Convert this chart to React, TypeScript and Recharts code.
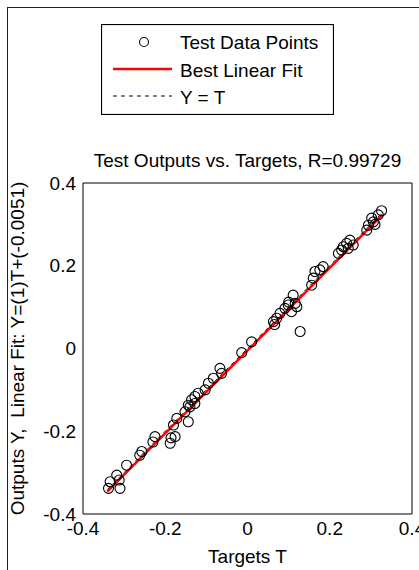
import React from "react";
import { ComposedChart, XAxis, YAxis, Scatter, Line, Legend } from "recharts";

// test set: targets T and network outputs Y
const targets = [
  0.326, 0.318, 0.302, 0.306, 0.294, 0.31, 0.29, 0.257, 0.249, 0.241, 0.233,
  0.229, 0.221, 0.245, 0.184, 0.176, 0.164, 0.16, 0.156, 0.111, 0.116, 0.099,
  0.091, 0.12, 0.107, 0.079, 0.071, 0.063, 0.066, 0.128, 0.01, -0.014, -0.067,
  -0.063, -0.083, -0.095, -0.103, -0.12, -0.128, -0.136, -0.144, -0.128, -0.14,
  -0.152, -0.144, -0.172, -0.18, -0.176, -0.188, -0.225, -0.23, -0.257, -0.262,
  -0.294, -0.318, -0.312, -0.334, -0.338, -0.31, -0.186, 0.1,
];
const outputs = [
  0.333, 0.323, 0.315, 0.306, 0.298, 0.3, 0.286, 0.25, 0.262, 0.254, 0.246,
  0.238, 0.23, 0.242, 0.198, 0.19, 0.186, 0.17, 0.153, 0.129, 0.109, 0.105,
  0.097, 0.101, 0.089, 0.085, 0.073, 0.065, 0.058, 0.041, 0.016, -0.01, -0.048,
  -0.06, -0.072, -0.084, -0.1, -0.108, -0.116, -0.124, -0.137, -0.133, -0.141,
  -0.153, -0.177, -0.169, -0.185, -0.213, -0.229, -0.213, -0.226, -0.249,
  -0.258, -0.282, -0.306, -0.318, -0.322, -0.338, -0.338, -0.216, 0.112,
];

// end points of the two reference lines
const fitT = [-0.341, 0.328];
const fitY = [-0.346, 0.323];
const identT = [-0.341, 0.328];
const identY = [-0.341, 0.328];

const xTicks = [-0.4, -0.2, 0, 0.2, 0.4];
const yTicks = [-0.4, -0.2, 0, 0.2, 0.4];

const title = "Test Outputs vs. Targets, R=0.99729";
const xLabel = "Targets T";
const yLabel = "Outputs Y,\u00a0 Linear Fit: Y=(1)T+(-0.0051)";
const legendNames = ["Test Data Points", "Best Linear Fit", "Y = T"];

const font = "'Liberation Sans', Arial, sans-serif";

const points = targets.map((t, i) => ({ t, y: outputs[i] }));
const fitData = fitT.map((t, i) => ({ t, y: fitY[i] }));
const identData = identT.map((t, i) => ({ t, y: identY[i] }));

const Ring = (props: any) => (
  <circle cx={props.cx} cy={props.cy} r={5} fill="none" stroke="#000" strokeWidth={1.1} />
);

const LegendBox = () => (
  <svg width={233} height={91} style={{ display: "block", fontFamily: font }}>
    <rect x={0.5} y={0.5} width={232} height={90} fill="#fff" stroke="#000" strokeWidth={1.2} />
    <circle cx={43} cy={18} r={4.5} fill="none" stroke="#000" strokeWidth={1.1} />
    <line x1={12} x2={71} y1={45} y2={45} stroke="#f00" strokeWidth={2.5} />
    <line x1={12} x2={71} y1={72} y2={72} stroke="#000" strokeWidth={1} strokeDasharray="4 4" />
    {legendNames.map((name, i) => (
      <text key={name} x={79} y={25 + i * 27.5} fontSize={19} fill="#000">
        {name}
      </text>
    ))}
  </svg>
);

const tickStyle = { fill: "#000", fontSize: 19, fontFamily: font };

export default function App() {
  return (
    <div style={{ position: "absolute", left: 0, top: 0, width: 419, height: 570, background: "#fff", overflow: "hidden" }}>
      <div
        style={{
          position: "absolute",
          left: 7,
          top: 7,
          width: 500,
          height: 700,
          borderLeft: "1.5px solid #222",
          borderTop: "1.5px solid #222",
        }}
      />
      <ComposedChart
        width={419}
        height={570}
        margin={{ top: 183, right: 7, bottom: 0, left: 0 }}
        style={{ fontFamily: font }}
      >
        <XAxis
          xAxisId="b"
          dataKey="t"
          type="number"
          domain={[-0.4, 0.4]}
          ticks={xTicks}
          interval={0}
          height={56}
          axisLine={false}
          tickLine={false}
          tickSize={6}
          tickMargin={2}
          tick={tickStyle}
          label={{ value: xLabel, position: "insideBottom", offset: 7, fill: "#000", fontSize: 19, fontFamily: font }}
        />
        <XAxis
          xAxisId="bm"
          type="number"
          orientation="bottom"
          mirror
          height={1}
          domain={[-0.4, 0.4]}
          ticks={xTicks}
          interval={0}
          tick={false}
          tickSize={4}
          stroke="#000"
        />
        <XAxis
          xAxisId="tm"
          type="number"
          orientation="top"
          mirror
          height={1}
          domain={[-0.4, 0.4]}
          ticks={xTicks}
          interval={0}
          tick={false}
          tickSize={4}
          stroke="#000"
          label={{ value: title, position: "top", offset: 16, fill: "#000", fontSize: 19, fontFamily: font }}
        />
        <YAxis
          yAxisId="l"
          dataKey="y"
          type="number"
          domain={[-0.4, 0.4]}
          ticks={yTicks}
          interval={0}
          width={83}
          axisLine={false}
          tickLine={false}
          tickSize={5}
          tickMargin={2}
          tick={tickStyle}
          label={{
            value: yLabel,
            angle: -90,
            position: "insideLeft",
            offset: 17,
            fill: "#000",
            fontSize: 19,
            fontFamily: font,
            style: { textAnchor: "middle" },
          }}
        />
        <YAxis
          yAxisId="lm"
          type="number"
          orientation="left"
          mirror
          width={1}
          domain={[-0.4, 0.4]}
          ticks={yTicks}
          interval={0}
          tick={false}
          tickSize={4}
          stroke="#000"
        />
        <YAxis
          yAxisId="rm"
          type="number"
          orientation="right"
          mirror
          width={1}
          domain={[-0.4, 0.4]}
          ticks={yTicks}
          interval={0}
          tick={false}
          tickSize={4}
          stroke="#000"
        />
        <Scatter
          xAxisId="b"
          yAxisId="l"
          data={points}
          dataKey="y"
          shape={Ring}
          isAnimationActive={false}
        />
        <Line
          xAxisId="b"
          yAxisId="l"
          data={identData}
          dataKey="y"
          stroke="#000"
          strokeWidth={1}
          strokeDasharray="4 4"
          dot={false}
          isAnimationActive={false}
        />
        <Line
          xAxisId="b"
          yAxisId="l"
          data={fitData}
          dataKey="y"
          stroke="#f00"
          strokeWidth={2.5}
          dot={false}
          isAnimationActive={false}
        />
        <Legend
          layout="vertical"
          align="center"
          verticalAlign="middle"
          content={LegendBox}
          wrapperStyle={{ position: "absolute", left: 101, top: 24, width: 233, height: 91 }}
        />
      </ComposedChart>
    </div>
  );
}
